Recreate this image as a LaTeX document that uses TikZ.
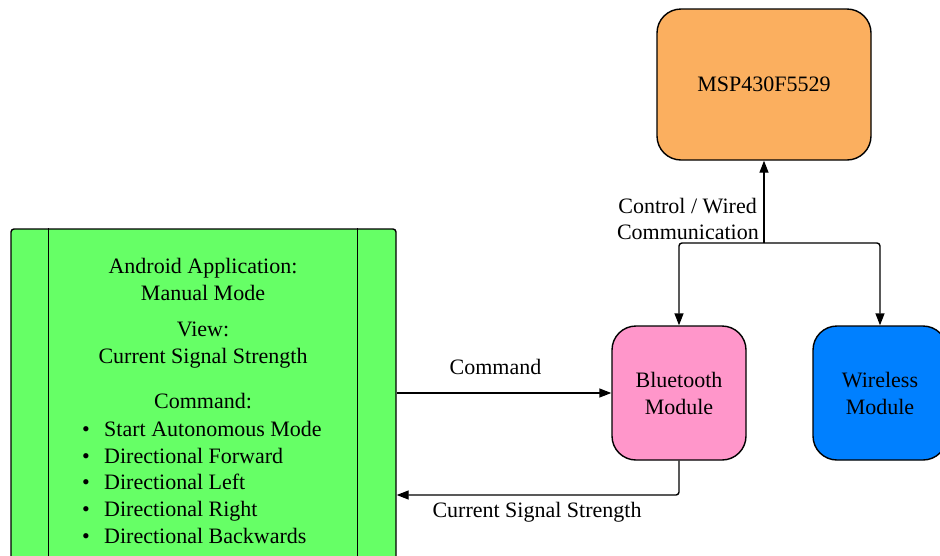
\documentclass[tikz,border=0pt]{standalone}
\usepackage{fontspec}
\setmainfont{Liberation Serif}
\usetikzlibrary{arrows.meta}
\definecolor{mspor}{RGB}{251,175,95}
\definecolor{btpink}{RGB}{255,150,202}
\definecolor{wlblue}{RGB}{0,128,255}
\definecolor{andgreen}{RGB}{102,255,102}
\tikzset{
  box/.style={draw=black, line width=1.4pt, rounded corners=24pt, align=center, inner sep=0pt},
  txt/.style={inner sep=0pt, anchor=base},
  arr/.style={line width=1.4pt, -{Triangle[length=12pt,width=9pt]}},
}
\begin{document}
\begin{tikzpicture}[x=1pt,y=-1pt,font=\fontsize{22}{27}\selectfont]
\useasboundingbox (0,0) rectangle (940,555);
\clip (0,0) rectangle (940,555);
% boxes
\node[box, fill=mspor, minimum width=214pt, minimum height=151pt] (msp) at (764,84.5) {MSP430F5529};
\node[box, fill=btpink, minimum width=134pt, minimum height=134pt] (bt) at (679,393) {Bluetooth\\Module};
\node[box, fill=wlblue, minimum width=134pt, minimum height=134pt] (wl) at (880,393) {Wireless\\Module};
\node[draw=black, line width=1.4pt, rounded corners=3pt, fill=andgreen, minimum width=385pt, minimum height=380pt, inner sep=0pt] (and) at (203.5,419) {};
\draw[line width=1.4pt] ([xshift=38pt]and.north west) -- ([xshift=38pt]and.south west);
\draw[line width=1.4pt] ([xshift=-39pt]and.north east) -- ([xshift=-39pt]and.south east);
% android text
\node[txt] (t1) at (203,273) {Android Application:};
\node[txt] (t2) at (203,300) {Manual Mode};
\node[txt] (t3) at (203,336) {View:};
\node[txt] (t4) at (203,363) {Current Signal Strength};
\node[txt] (t5) at (203,408) {Command:};
\foreach \y/\t [count=\i] in {436/Start Autonomous Mode,463/Directional Forward,489/Directional Left,516/Directional Right,543/Directional Backwards}{
  \node[txt] (b\i) at (86,\y) {\textbullet};
  \node[txt, anchor=base west] (l\i) at (104,\y) {\t};
}
% connectors
\coordinate (j) at (764,243);
\draw[arr] (j) -- (msp.south);
\draw[arr, rounded corners=3pt] (j) -| (bt.north);
\draw[arr, rounded corners=3pt] (j) -| (wl.north);
\node[txt, anchor=base east] (c1) at (757,213) {Control / Wired};
\node[txt, anchor=base east] (c2) at (759,239) {Communication};
\draw[arr] (bt.west -| and.east) -- (bt.west);
\node[txt] (cmd) at (495.5,374) {Command};
\coordinate (r) at (679,495);
\draw[arr, rounded corners=3pt] (bt.south) -- (r) -- (r -| and.east);
\node[txt] (css) at (537,517) {Current Signal Strength};
\end{tikzpicture}
\end{document}
